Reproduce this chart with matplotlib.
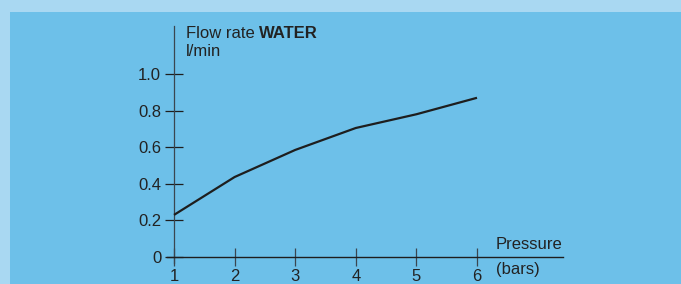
import matplotlib
matplotlib.use("Agg")
import matplotlib.pyplot as plt
from matplotlib.patches import Rectangle

# Data
pressure = [1, 2, 3, 4, 5, 6]
flow = [0.23, 0.437, 0.585, 0.705, 0.78, 0.87]
x_ticks = [1, 2, 3, 4, 5, 6]
y_ticks = [0, 0.2, 0.4, 0.6, 0.8, 1.0]
y_labels = ["0", "0.2", "0.4", "0.6", "0.8", "1.0"]

W, H = 681, 284
plt.rcParams['font.family'] = ['Liberation Sans', 'DejaVu Sans']

fig = plt.figure(figsize=(W / 100, H / 100), dpi=100)
fig.patch.set_facecolor('#a9d8f2')
fig.patches.append(Rectangle((10 / W, 0), 1, 1 - 12 / H, transform=fig.transFigure,
                             facecolor='#6dc0e9', edgecolor='none', zorder=-5))

def px(x, y):
    return x / W, 1 - y / H

left, right = 166.7, 562.5
top, bottom = 26, 263
ax = fig.add_axes([left / W, 1 - bottom / H, (right - left) / W, (bottom - top) / H])
ax.set_zorder(5)
ax.set_facecolor('none')
xmin = 1 - (174 - left) / 60.6
xmax = 1 + (right - 174) / 60.6
ymin = -(bottom - 257) / 183
ymax = (257 - top) / 183
ax.set_xlim(xmin, xmax)
ax.set_ylim(ymin, ymax)

ax.plot(pressure, flow, color='#1e1e1e', lw=1.6, solid_capstyle='butt', zorder=3)

for s in ['top', 'right']:
    ax.spines[s].set_visible(False)
ax.spines['left'].set_position(('data', 1))
ax.spines['bottom'].set_position(('data', 0))
ax.spines['left'].set_color('#3a4650')
ax.spines['bottom'].set_color('#1e1e1e')
ax.spines['left'].set_linewidth(0.9)
ax.spines['bottom'].set_linewidth(1.0)

ax.set_xticks(x_ticks)
ax.set_xticklabels([str(v) for v in x_ticks])
ax.set_yticks(y_ticks)
ax.set_yticklabels(y_labels)
ax.tick_params(axis='x', direction='inout', length=13, width=0.9, color='#3a4650',
               pad=2, labelsize=12, labelcolor='#222222')
ax.tick_params(axis='y', direction='inout', length=12.5, width=0.9, color='#1e1e1e',
               pad=3, labelsize=12, labelcolor='#222222')

t1 = fig.text(*px(186, 38), "Flow rate ", fontsize=12, color='#222222', va='baseline', zorder=6)
fig.texts.append(t1) if False else None
w = fig.text(0, 0, "WATER", fontsize=12, fontweight='bold', color='#222222', va='baseline', zorder=6)
fig.canvas.draw()
bb = t1.get_window_extent()
w.set_position((bb.x1 / W, 1 - 38 / H))
fig.text(*px(186, 56.5), "l/min", fontsize=12, color='#222222', va='baseline', zorder=6)
fig.text(*px(496, 249), "Pressure", fontsize=12, color='#222222', va='baseline', zorder=6)
fig.text(*px(496, 274), "(bars)", fontsize=12, color='#222222', va='baseline', zorder=6)

fig.savefig("out.png", dpi=100, facecolor=fig.get_facecolor())
